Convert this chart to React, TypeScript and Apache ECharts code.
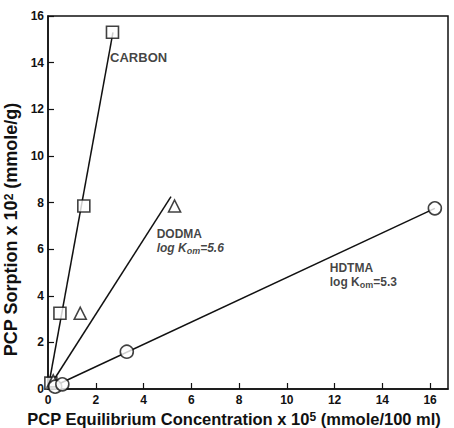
import React, { useEffect, useRef } from "react";
import * as echarts from "echarts";

const xTicks = [0, 2, 4, 6, 8, 10, 12, 14, 16];

const carbonPoints = [[0.12, 0.25], [0.5, 3.25], [1.5, 7.85], [2.7, 15.3]];
const dodmaPoints = [[0.22, 0.35], [1.35, 3.25], [5.3, 7.85]];
const hdtmaPoints = [[0.3, 0.1], [0.6, 0.2], [3.3, 1.6], [16.2, 7.75]];

const carbonLine = [[0, 0], [2.72, 15.3]];
const dodmaLine = [[0, 0], [5.15, 8.25]];
const hdtmaLine = [[0, 0], [16.2, 7.75]];

const labelAnchors = [
  { at: [2.6, 14.2], kind: "plain", text: "CARBON" },
  { at: [4.55, 6.33], kind: "dodma", text: "5.6" },
  { at: [11.8, 4.87], kind: "hdtma", text: "5.3" },
];

const FONT = "'Liberation Sans', Arial, Helvetica, sans-serif";

export default function App() {
  const ref = useRef<HTMLDivElement>(null);
  useEffect(() => {
    if (!ref.current) return;
    const chart = echarts.init(ref.current, null, { renderer: "svg" });
    const lineStyle = { color: "#111", width: 1.5 };
    const sym = (s: string, size: number, data: number[][]) => ({
      type: "scatter",
      data,
      symbol: s,
      symbolSize: size,
      itemStyle: { color: "#fff", borderColor: "#111", borderWidth: 1.6 },
      z: 5,
    });
    const line = (data: number[][]) => ({
      type: "line",
      data,
      showSymbol: false,
      symbol: "none",
      lineStyle,
      z: 3,
    });
    const rich = {
      b: { fontFamily: FONT, fontWeight: "bold", fontSize: 12, lineHeight: 14, color: "#111" },
      bi: { fontFamily: FONT, fontWeight: "bold", fontStyle: "italic", fontSize: 12, lineHeight: 14, color: "#111" },
      sub: { fontFamily: FONT, fontWeight: "bold", fontSize: 9, lineHeight: 8, verticalAlign: "bottom", color: "#111" },
      subi: { fontFamily: FONT, fontWeight: "bold", fontStyle: "italic", fontSize: 9, lineHeight: 8, verticalAlign: "bottom", color: "#111" },
      c: { fontFamily: FONT, fontWeight: "bold", fontSize: 13, lineHeight: 14, color: "#111" },
    };
    const labelSeries = labelAnchors.map((a) => ({
      type: "scatter",
      data: [a.at],
      symbolSize: 0,
      silent: true,
      z: 6,
      label: {
        show: true,
        position: "right",
        distance: 0,
        align: "left",
        formatter:
          a.kind === "plain"
            ? `{c|${a.text}}`
            : a.kind === "dodma"
            ? `{b|DODMA}\n{bi|log K}{subi|om}{bi|=${a.text}}`
            : `{b|HDTMA}\n{b|log K}{sub|om}{b|=${a.text}}`,
        rich,
      },
    }));
    const titleRich = (size: number) => ({
      t: { fontFamily: FONT, fontWeight: "bold", fontSize: size, lineHeight: 16, color: "#111" },
      sup: { fontFamily: FONT, fontWeight: "bold", fontSize: 12, lineHeight: 10, verticalAlign: "top", color: "#111" },
    });
    chart.setOption({
      animation: false,
      backgroundColor: "#fff",
      grid: {
        left: 48,
        top: 16,
        width: 400,
        height: 373,
        outerBoundsMode: "none",
        containLabel: false,
        show: true,
        borderColor: "#111",
        borderWidth: 1.5,
        backgroundColor: "transparent",
      },
      xAxis: {
        type: "value",
        min: 0,
        max: 16.75,
        interval: 2,
        name: "{t|PCP Equilibrium Concentration x 10}{sup|5}{t| (mmole/100 ml)}",
        nameLocation: "middle",
        nameGap: 21,
        nameTextStyle: { rich: titleRich(16.5), padding: [0, 28, 0, 0] },
        axisLine: { show: true, onZero: false, lineStyle: { color: "#111", width: 1.5 } },
        axisTick: { show: true, inside: true, length: 6, lineStyle: { color: "#111", width: 1.2 }, customValues: xTicks },
        axisLabel: {
          margin: 5,
          fontFamily: FONT,
          fontWeight: "bold",
          fontSize: 12,
          color: "#111",
          customValues: xTicks,
        },
        splitLine: { show: false },
      },
      yAxis: {
        type: "value",
        min: 0,
        max: 16,
        interval: 2,
        name: "{t|PCP Sorption x 10}{sup|2}{t| (mmole/g)}",
        nameLocation: "middle",
        nameGap: 12,
        nameTextStyle: { rich: titleRich(18), padding: [0, 54, 0, 0] },
        axisLine: { show: true, onZero: false, lineStyle: { color: "#111", width: 1.5 } },
        axisTick: { show: true, inside: true, length: 6, lineStyle: { color: "#111", width: 1.2 } },
        axisLabel: {
          margin: 4,
          fontFamily: FONT,
          fontWeight: "bold",
          fontSize: 12,
          color: "#111",
        },
        splitLine: { show: false },
      },
      series: [
        line(carbonLine),
        line(dodmaLine),
        line(hdtmaLine),
        sym("rect", 12, carbonPoints),
        sym("triangle", 12, dodmaPoints),
        sym("circle", 13, hdtmaPoints),
        ...labelSeries,
      ],
    });
    return () => chart.dispose();
  }, []);
  return (
    <div
      ref={ref}
      style={{ position: "fixed", left: 0, top: 0, width: 454, height: 428, background: "#fff" }}
    />
  );
}
